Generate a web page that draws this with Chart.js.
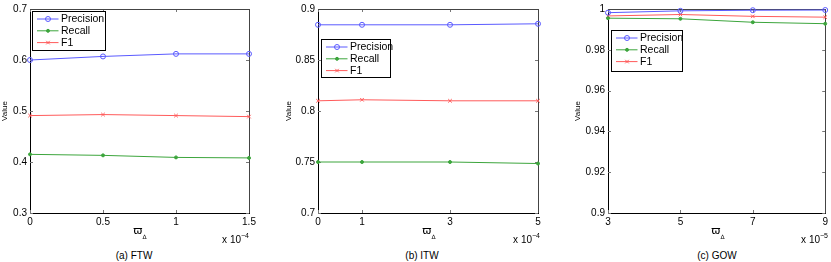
<!DOCTYPE html>
<html>
<head>
<meta charset="utf-8">
<script src="https://cdn.jsdelivr.net/npm/chart.js@4.4.0/dist/chart.umd.min.js"></script>
<style>
  body { margin: 0; background: #fff; width: 831px; height: 262px; overflow: hidden; position: relative;
         font-family: "Liberation Sans", Arial, sans-serif; }
  .panel { position: absolute; top: 0; }
  .lbl { position: absolute; font-size: 10px; color: #000; white-space: nowrap; line-height: 1; }
  .sym { position: absolute; font-family: "DejaVu Sans", sans-serif; white-space: nowrap; line-height: 1; }
  .c { transform: translateX(-50%); }
  .r { transform: translateX(-100%); }
</style>
</head>
<body>
<div class="panel" style="left:0px"><canvas id="chartA" width="275" height="232"></canvas></div>
<div class="panel" style="left:284px"><canvas id="chartB" width="276" height="232"></canvas></div>
<div class="panel" style="left:573px"><canvas id="chartC" width="258" height="232"></canvas></div>

<!-- x axis symbols, exponents, captions -->
<span class="sym c" style="left:140px;top:225px;font-size:11px">ϖ<span style="font-size:6px;position:relative;top:5px">Δ</span></span>
<span class="sym c" style="left:429px;top:225px;font-size:11px">ϖ<span style="font-size:6px;position:relative;top:5px">Δ</span></span>
<span class="sym c" style="left:718px;top:225px;font-size:11px">ϖ<span style="font-size:6px;position:relative;top:5px">Δ</span></span>

<span class="lbl r" style="left:249px;top:232px">x 10<sup style="font-size:7px;vertical-align:5px">−4</sup></span>
<span class="lbl r" style="left:540px;top:232px">x 10<sup style="font-size:7px;vertical-align:5px">−4</sup></span>
<span class="lbl r" style="left:828px;top:232px">x 10<sup style="font-size:7px;vertical-align:5px">−5</sup></span>

<span class="lbl c" style="left:134px;top:251px">(a) FTW</span>
<span class="lbl c" style="left:422px;top:251px">(b) ITW</span>
<span class="lbl c" style="left:717px;top:251px">(c) GOW</span>

<script>
// (a) FTW
const xA = [0, 0.5, 1, 1.5];
const precisionA = [0.600, 0.607, 0.612, 0.612];
const recallA = [0.415, 0.413, 0.409, 0.408];
const f1A = [0.491, 0.493, 0.491, 0.489];
const yTicksA = [0.3, 0.4, 0.5, 0.6, 0.7];

// (b) ITW
const xB = [0, 1, 3, 5];
const precisionB = [0.8845, 0.8845, 0.8845, 0.8855];
const recallB = [0.750, 0.750, 0.750, 0.7485];
const f1B = [0.810, 0.811, 0.810, 0.810];
const yTicksB = [0.7, 0.75, 0.8, 0.85, 0.9];

// (c) GOW
const xC = [3, 5, 7, 9];
const precisionC = [0.9982, 0.9991, 0.9994, 0.9995];
const recallC = [0.9955, 0.9952, 0.9935, 0.9928];
const f1C = [0.9966, 0.9973, 0.9964, 0.9960];
const yTicksC = [0.9, 0.92, 0.94, 0.96, 0.98, 1];

const seriesNames = ['Precision', 'Recall', 'F1'];

const BLUE = 'rgb(90,90,255)';
const GREEN = 'rgb(60,165,60)';
const RED = 'rgb(255,90,90)';
const FONT = "'Liberation Sans', Arial, sans-serif";

// inward tick marks + top/right frame, matlab style
const framePlugin = {
  id: 'frame',
  beforeDatasetsDraw(chart) {
    const { ctx, chartArea: a, scales } = chart;
    ctx.save();
    ctx.strokeStyle = '#777';
    ctx.lineWidth = 1;
    ctx.beginPath();
    scales.x.ticks.forEach(t => {
      const px = Math.round(scales.x.getPixelForValue(t.value)) + 0.5;
      ctx.moveTo(px, a.bottom); ctx.lineTo(px, a.bottom - 3);
      ctx.moveTo(px, a.top); ctx.lineTo(px, a.top + 3);
    });
    scales.y.ticks.forEach(t => {
      const py = Math.round(scales.y.getPixelForValue(t.value)) + 0.5;
      ctx.moveTo(a.left, py); ctx.lineTo(a.left + 3, py);
      ctx.moveTo(a.right, py); ctx.lineTo(a.right - 3, py);
    });
    ctx.stroke();
    ctx.strokeStyle = '#444';
    ctx.beginPath();
    ctx.moveTo(a.left, Math.round(a.top) + 0.5);
    ctx.lineTo(a.right, Math.round(a.top) + 0.5);
    ctx.moveTo(Math.round(a.right) + 0.5, a.top);
    ctx.lineTo(Math.round(a.right) + 0.5, a.bottom);
    ctx.stroke();
    ctx.restore();
  }
};

function drawMarker(ctx, ds, x, y) {
  ctx.save();
  ctx.strokeStyle = ds.borderColor;
  ctx.fillStyle = ds.pointBackgroundColor;
  ctx.lineWidth = 1;
  const r = ds.pointRadius;
  ctx.beginPath();
  if (ds.pointStyle === 'crossRot') {
    ctx.moveTo(x - r * 0.7, y - r * 0.7); ctx.lineTo(x + r * 0.7, y + r * 0.7);
    ctx.moveTo(x + r * 0.7, y - r * 0.7); ctx.lineTo(x - r * 0.7, y + r * 0.7);
    ctx.stroke();
  } else {
    ctx.arc(x, y, r, 0, Math.PI * 2);
    ctx.fill();
    ctx.stroke();
  }
  ctx.restore();
}

const boxLegend = {
  id: 'boxLegend',
  afterDraw(chart, args, opts) {
    const { ctx, chartArea: a } = chart;
    const x0 = Math.round(a.left + opts.x) + 0.5;
    const y0 = Math.round(a.top + opts.y) + 0.5;
    ctx.save();
    ctx.fillStyle = '#fff';
    ctx.strokeStyle = '#000';
    ctx.lineWidth = 1;
    ctx.fillRect(x0, y0, opts.w, opts.h);
    ctx.strokeRect(x0, y0, opts.w, opts.h);
    ctx.font = '10.5px ' + FONT;
    ctx.textBaseline = 'middle';
    chart.data.datasets.forEach((ds, i) => {
      const cy = y0 + 7.5 + i * 11.8;
      ctx.strokeStyle = ds.borderColor;
      ctx.beginPath();
      ctx.moveTo(x0 + 4.5, cy); ctx.lineTo(x0 + 26, cy);
      ctx.stroke();
      drawMarker(ctx, ds, x0 + 15.5, cy);
      ctx.fillStyle = '#000';
      ctx.fillText(ds.label, x0 + 28.5, cy + 0.5);
    });
    ctx.restore();
  }
};

function makeSet(name, xs, ys, color, style, radius, fill) {
  return {
    label: name,
    data: xs.map((x, i) => ({ x: x, y: ys[i] })),
    borderColor: color,
    borderWidth: 1,
    pointStyle: style,
    pointRadius: radius,
    pointBorderWidth: 1,
    pointBorderColor: color,
    pointBackgroundColor: fill,
    tension: 0,
    clip: false
  };
}

function makePanel(id, xs, prec, rec, f1, yTicks, yWidth, pad, legend) {
  const ctx = document.getElementById(id).getContext('2d');
  return new Chart(ctx, {
    type: 'line',
    data: {
      datasets: [
        makeSet(seriesNames[0], xs, prec, BLUE, 'circle', 2.5, 'rgba(255,255,255,0)'),
        makeSet(seriesNames[1], xs, rec, GREEN, 'circle', 1.5, GREEN),
        makeSet(seriesNames[2], xs, f1, RED, 'crossRot', 2.5, RED)
      ]
    },
    options: {
      responsive: false,
      animation: false,
      layout: { padding: { left: 0, top: pad.top, right: pad.right, bottom: 0 } },
      plugins: { legend: { display: false }, tooltip: { enabled: false }, boxLegend: legend },
      scales: {
        x: {
          type: 'linear',
          min: xs[0],
          max: xs[xs.length - 1],
          afterBuildTicks: s => { s.ticks = xs.map(v => ({ value: v })); },
          afterFit: s => { s.height = 19; },
          grid: { display: false, drawTicks: false },
          border: { display: true, color: '#000', width: 1 },
          ticks: { padding: 3, color: '#000', font: { family: FONT, size: 10 },
                   callback: v => String(+v.toFixed(3)) }
        },
        y: {
          min: yTicks[0],
          max: yTicks[yTicks.length - 1],
          afterBuildTicks: s => { s.ticks = yTicks.map(v => ({ value: v })); },
          afterFit: s => { s.width = yWidth; },
          grid: { display: false, drawTicks: false },
          border: { display: true, color: '#000', width: 1 },
          title: { display: true, text: 'Value', color: '#000', padding: 0,
                   font: { family: FONT, size: 8 } },
          ticks: { padding: 3, color: '#000', font: { family: FONT, size: 10 },
                   callback: v => String(+v.toFixed(3)) }
        }
      }
    },
    plugins: [framePlugin, boxLegend]
  });
}

makePanel('chartA', xA, precisionA, recallA, f1A, yTicksA, 30, { top: 6, right: 26 },
  { x: 2, y: 2, w: 73, h: 39 });
makePanel('chartB', xB, precisionB, recallB, f1B, yTicksB, 34, { top: 5, right: 22 },
  { x: 3, y: 30, w: 69, h: 38 });
makePanel('chartC', xC, precisionC, recallC, f1C, yTicksC, 35, { top: 5, right: 4 },
  { x: 3, y: 21, w: 71, h: 41 });
</script>
</body>
</html>
